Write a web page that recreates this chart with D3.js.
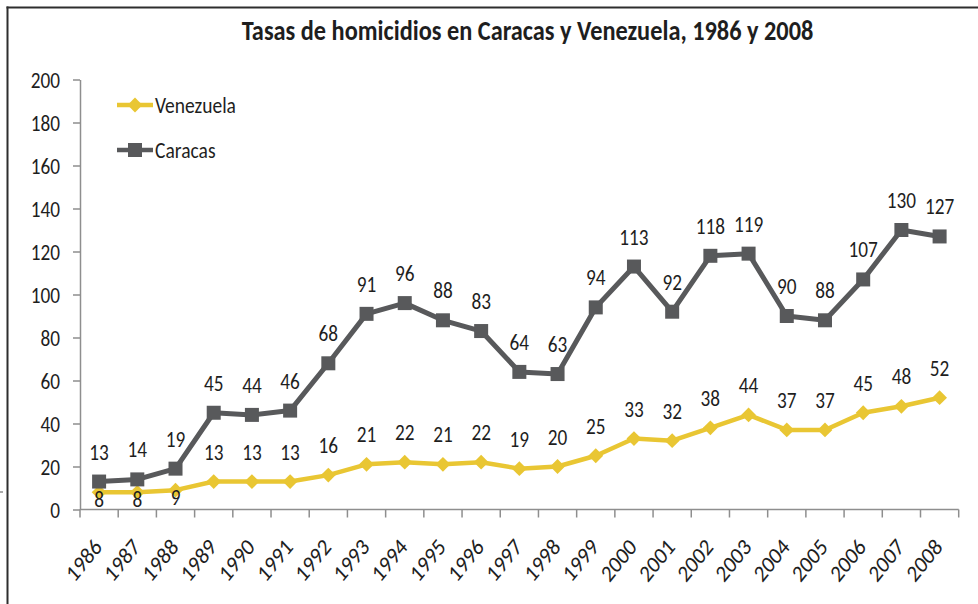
<!DOCTYPE html>
<html><head><meta charset="utf-8">
<script src="https://cdn.jsdelivr.net/npm/d3@7"></script>
<style>
html,body{margin:0;padding:0;background:#fff;}
svg{display:block;}
text{font-family:Carlito, Calibri, Lato, "Open Sans", sans-serif;fill:#1e1e1e;}
</style></head>
<body>
<svg id="chart" width="978" height="604"></svg>
<script>
const years = ["1986","1987","1988","1989","1990","1991","1992","1993","1994","1995","1996","1997","1998","1999","2000","2001","2002","2003","2004","2005","2006","2007","2008"];
const venezuela = [8,8,9,13,13,13,16,21,22,21,22,19,20,25,33,32,38,44,37,37,45,48,52];
const caracas = [13,14,19,45,44,46,68,91,96,88,83,64,63,94,113,92,118,119,90,88,107,130,127];
const yTicks = [0,20,40,60,80,100,120,140,160,180,200];
const title = "Tasas de homicidios en Caracas y Venezuela, 1986 y 2008";
const seriesNames = ["Venezuela","Caracas"];
// labels placed below the point for these Venezuela years
const venBelow = ["1986","1987","1988"];

const svg = d3.select("#chart");
const YEL = "#E9C633", GRY = "#58595B", AX = "#8E8E8E";
const SY = 1.2; // vertical stretch of the original text

const x = d3.scaleBand().domain(years).range([80, 958.7]).padding(0);
const y = d3.scaleLinear().domain([0, 200]).range([509.5, 79.5]);
const cx = d => x(d) + x.bandwidth() / 2;

function fitSize(str, weight, target) {
  const t = svg.append("text").attr("font-size", 20).attr("font-weight", weight).text(str);
  const w = t.node().getComputedTextLength();
  t.remove();
  return 20 * target / w;
}
const numSize = fitSize("200", "normal", 29.3);
const titleSize = fitSize(title, "bold", 572);
const legSize = fitSize("Venezuela", "normal", 81);

// outer frame
svg.append("line").attr("x1", 7.5).attr("x2", 7.5).attr("y1", 6.5).attr("y2", 604).attr("stroke", "#2e2e2e").attr("stroke-width", 2);
svg.append("line").attr("x1", 6.5).attr("x2", 978).attr("y1", 7.5).attr("y2", 7.5).attr("stroke", "#2e2e2e").attr("stroke-width", 2);
svg.append("line").attr("x1", 0).attr("x2", 3).attr("y1", 492).attr("y2", 492).attr("stroke", "#555").attr("stroke-width", 1);

// title
svg.append("g").attr("transform", `translate(527.5,40) scale(1,1.15)`)
  .append("text").attr("text-anchor", "middle").attr("font-weight", "bold")
  .attr("font-size", titleSize).text(title);

// y axis
const yAxis = svg.append("g").attr("transform", "translate(80,0)")
  .call(d3.axisLeft(y).tickValues(yTicks).tickSize(7).tickSizeOuter(0).tickFormat(d3.format("d")));
yAxis.select(".domain").attr("stroke", AX).attr("stroke-width", 1.5);
yAxis.selectAll(".tick line").attr("stroke", AX).attr("stroke-width", 1.5);
yAxis.selectAll(".tick text").each(function() {
  const t = d3.select(this);
  const parent = d3.select(this.parentNode);
  const txt = t.text();
  t.remove();
  parent.append("g").attr("transform", `translate(-20,${numSize * 0.36 * SY}) scale(1,${SY})`)
    .append("text").attr("text-anchor", "end").attr("font-size", numSize).attr("fill", "#1e1e1e").text(txt);
});

// x axis
const xAxisG = svg.append("g");
xAxisG.append("line").attr("x1", x.range()[0]).attr("x2", x.range()[1])
  .attr("y1", y(0)).attr("y2", y(0)).attr("stroke", AX).attr("stroke-width", 1.5);
const bounds = years.map(d => x(d)).concat([x(years[years.length - 1]) + x.bandwidth()]);
xAxisG.selectAll("line.tk").data(bounds).join("line").attr("class", "tk")
  .attr("x1", d => d).attr("x2", d => d).attr("y1", y(0)).attr("y2", y(0) + 8)
  .attr("stroke", AX).attr("stroke-width", 1.5);
xAxisG.selectAll("g.xl").data(years).join("g").attr("class", "xl")
  .attr("transform", d => `translate(${cx(d) + 4},548) scale(1,1.15) rotate(-47)`)
  .append("text").attr("text-anchor", "end").attr("font-size", numSize * 1.07).text(d => d);

// lines
const line = vals => d3.line().x((d, i) => cx(years[i])).y(d => y(d))(vals);
svg.append("path").attr("d", line(venezuela)).attr("fill", "none").attr("stroke", YEL).attr("stroke-width", 4.5).attr("stroke-linejoin", "round");
svg.append("path").attr("d", line(caracas)).attr("fill", "none").attr("stroke", GRY).attr("stroke-width", 5).attr("stroke-linejoin", "round");

// markers
const diamond = d3.symbol().type(d3.symbolDiamond2).size(140);
svg.selectAll("path.vm").data(venezuela).join("path").attr("class", "vm")
  .attr("d", diamond).attr("fill", YEL)
  .attr("transform", (d, i) => `translate(${cx(years[i])},${y(d)})`);
svg.selectAll("rect.cm").data(caracas).join("rect").attr("class", "cm")
  .attr("x", (d, i) => cx(years[i]) - 7).attr("y", d => y(d) - 7)
  .attr("width", 14).attr("height", 14).attr("fill", GRY);

// data labels
function label(vals, belowSet) {
  svg.append("g").selectAll("g").data(vals).join("g")
    .attr("transform", (d, i) => {
      const below = belowSet.includes(years[i]);
      return `translate(${cx(years[i])},${y(d) + (below ? 15 : -22)}) scale(1,${SY})`;
    })
    .append("text").attr("text-anchor", "middle").attr("font-size", numSize).text(d => d);
}
label(caracas, []);
label(venezuela, venBelow);

// legend
const leg = [{name: seriesNames[0], c: YEL, y: 105, m: "d"}, {name: seriesNames[1], c: GRY, y: 150, m: "s"}];
leg.forEach(l => {
  const g = svg.append("g");
  g.append("line").attr("x1", 117).attr("x2", 153).attr("y1", l.y).attr("y2", l.y).attr("stroke", l.c).attr("stroke-width", 4.5);
  if (l.m === "d") g.append("path").attr("d", diamond).attr("fill", l.c).attr("transform", `translate(135,${l.y})`);
  else g.append("rect").attr("x", 128).attr("y", l.y - 7).attr("width", 14).attr("height", 14).attr("fill", l.c);
  g.append("g").attr("transform", `translate(155,${l.y + legSize * 0.36 * SY}) scale(1,${SY})`)
    .append("text").attr("font-size", legSize).text(l.name);
});
</script>
</body></html>
